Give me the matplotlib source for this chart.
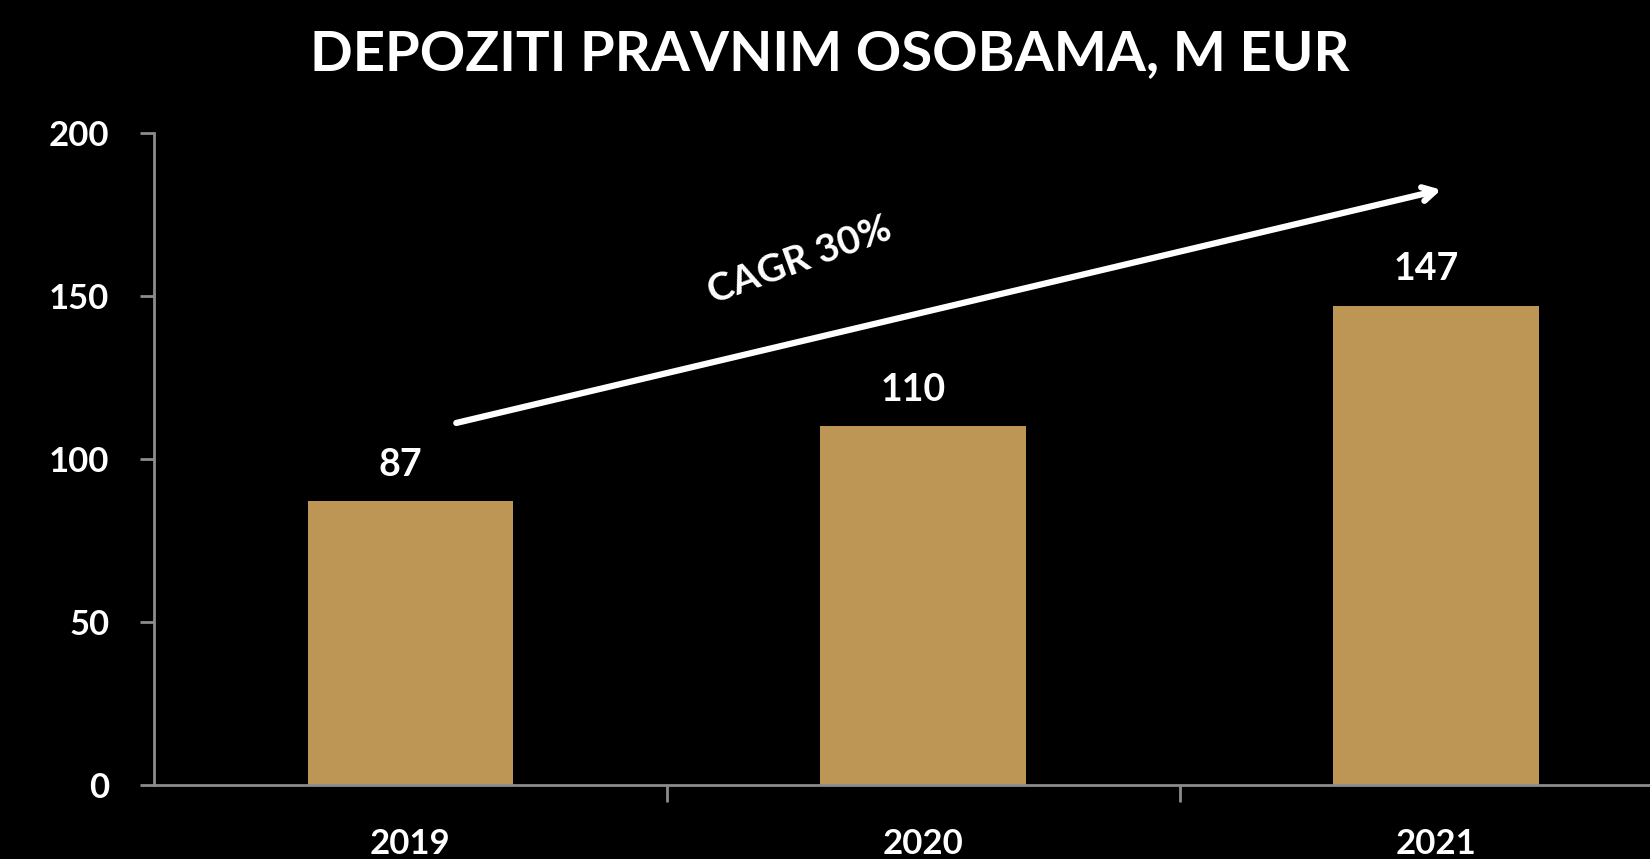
import matplotlib.pyplot as plt

# data
years = ['2019', '2020', '2021']
deposits = [87, 110, 147]
yticks = [0, 50, 100, 150, 200]
cagr_label = 'CAGR 30%'
# arrow start / end in data units
arrow_start = (0.09, 111)
arrow_end = (2.01, 182.5)

plt.rcParams['font.family'] = ['Lato', 'DejaVu Sans']
plt.rcParams['font.weight'] = 'bold'

fig = plt.figure(figsize=(16.5, 8.59), dpi=100, facecolor='black')
ax = fig.add_axes([0.0931, 0.0861, 0.9327, 0.7595], facecolor='black')

x = range(len(years))
ax.bar(x, deposits, width=0.4, color='#BD9655', zorder=2)

for xi, v in zip(x, deposits):
    ax.text(xi - 0.02, v + 6, str(v), ha='center', va='bottom', color='white',
            fontsize=27, fontweight='bold')

ax.set_xlim(-0.5, 2.5)
ax.set_ylim(0, 200)
ax.set_yticks(yticks)
ax.set_yticklabels([str(t) for t in yticks])
ax.set_xticks([0.5, 1.5], minor=False)
ax.set_xticklabels([])
ax.set_xticks(list(x), minor=True)
ax.set_xticklabels(years, minor=True)

ax.tick_params(axis='y', colors='#8c8c8c', labelcolor='white', labelsize=25,
               length=10, width=2, pad=22)
ax.tick_params(axis='x', which='major', colors='#8c8c8c', length=12, width=2,
               direction='out')
ax.tick_params(axis='x', which='minor', length=0, labelcolor='white',
               labelsize=25, pad=31)
for lbl in ax.get_yticklabels() + ax.get_xticklabels(minor=True):
    lbl.set_fontweight('bold')

for side in ['top', 'right']:
    ax.spines[side].set_visible(False)
for side in ['left', 'bottom']:
    ax.spines[side].set_color('#8c8c8c')
    ax.spines[side].set_linewidth(2)
ax.spines['left'].set_position(('data', -0.5))

ax.annotate('', xy=arrow_end, xytext=arrow_start,
            arrowprops=dict(arrowstyle='->,head_length=0.9,head_width=0.5',
                            color='white', lw=4.5, shrinkA=0, shrinkB=0),
            annotation_clip=False)
ax.text(0.76, 161, cagr_label, rotation=20, ha='center', va='center',
        color='white', fontsize=28, fontweight='bold', rotation_mode='anchor')

fig.text(0.503, 0.937, 'DEPOZITI PRAVNIM OSOBAMA, M EUR', ha='center',
         va='center', color='white', fontsize=40.5, fontweight='bold')

fig.savefig('out.png', dpi=100, facecolor='black')
